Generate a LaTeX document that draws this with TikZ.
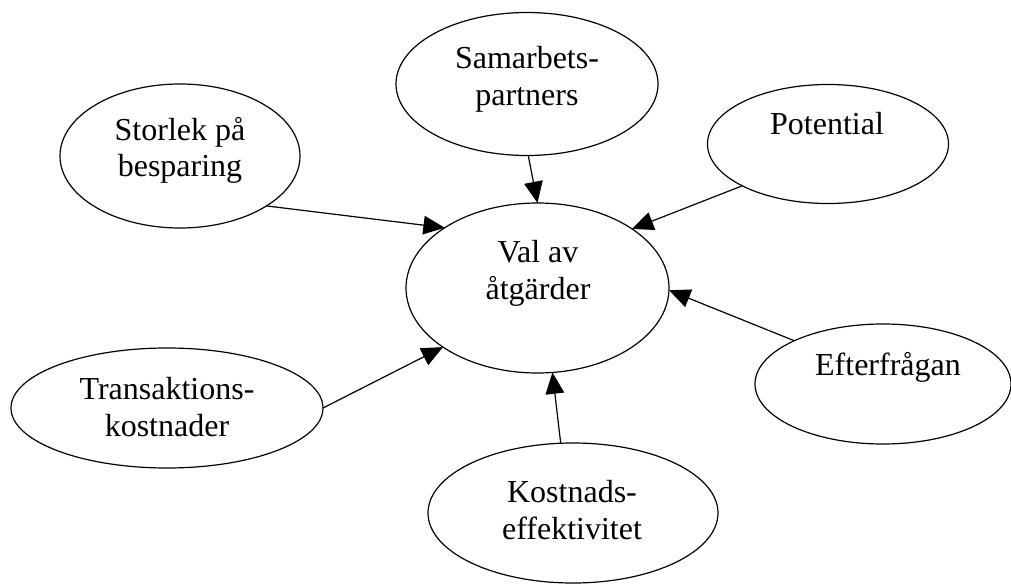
\documentclass[tikz,border=0pt]{standalone}
\usepackage{fontspec}
\setmainfont{Liberation Serif}
\usetikzlibrary{arrows.meta,shapes.geometric}
\begin{document}
\begin{tikzpicture}[x=0.75pt,y=-0.75pt,
  oval/.style={ellipse,draw,line width=0.9pt,inner sep=0pt,outer sep=0pt},
  lbl/.style={align=center,inner sep=0pt,font=\fontsize{24}{27.5}\selectfont},
  arr/.style={line width=0.9pt,-{Triangle[length=16pt,width=14pt]}}]
\useasboundingbox (0,0) rectangle (1011,585);
\node[oval,minimum width=180pt,minimum height=108pt] (stor) at (180,156) {};
\node[oval,minimum width=196.5pt,minimum height=107.25pt] (sam) at (527,84) {};
\node[oval,minimum width=180.75pt,minimum height=89.25pt] (pot) at (828,144) {};
\node[oval,minimum width=197.25pt,minimum height=127.5pt] (val) at (537.5,288) {};
\node[oval,minimum width=234pt,minimum height=90pt] (tra) at (167,408) {};
\node[oval,minimum width=192pt,minimum height=90pt] (eft) at (883,384) {};
\node[oval,minimum width=217.5pt,minimum height=105pt] (kos) at (573,513) {};
\node[lbl] (storT) at (180,150.5) {Storlek på\\besparing};
\node[lbl] (samT) at (527,79) {Samarbets-\\partners};
\node[lbl] (potT) at (827,124) {Potential};
\node[lbl] (valT) at (538,273.5) {Val av\\åtgärder};
\node[lbl] (traT) at (167,407) {Transaktions-\\kostnader};
\node[lbl] (eftT) at (888,367) {Efterfrågan};
\node[lbl] (kosT) at (572,510) {Kostnads-\\effektivitet};
\draw[arr] (stor.-30.4) -- (val.147.4);
\draw[arr] (sam.-89) -- (val.90);
\draw[arr] (pot.206.6) -- (val.32);
\draw[arr] (eft.154.5) -- (val.-1);
\draw[arr] (tra.0) -- (val.212.4);
\draw[arr] (kos.100.7) -- (val.-80.3);
\end{tikzpicture}
\end{document}
